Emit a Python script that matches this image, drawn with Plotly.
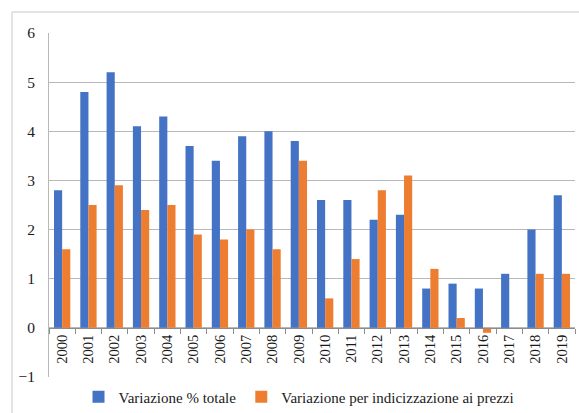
import plotly.graph_objects as go

years = ["2000","2001","2002","2003","2004","2005","2006","2007","2008","2009",
         "2010","2011","2012","2013","2014","2015","2016","2017","2018","2019"]
totale = [2.8, 4.8, 5.2, 4.1, 4.3, 3.7, 3.4, 3.9, 4.0, 3.8,
          2.6, 2.6, 2.2, 2.3, 0.8, 0.9, 0.8, 1.1, 2.0, 2.7]
indicizzazione = [1.6, 2.5, 2.9, 2.4, 2.5, 1.9, 1.8, 2.0, 1.6, 3.4,
                  0.6, 1.4, 2.8, 3.1, 1.2, 0.2, -0.1, 0.0, 1.1, 1.1]

FONT = "Times New Roman, Liberation Serif, serif"

fig = go.Figure()
fig.add_trace(go.Bar(x=years, y=totale, name="Variazione % totale",
                     marker=dict(color="#4472C4", line=dict(width=0))))
fig.add_trace(go.Bar(x=years, y=indicizzazione, name="Variazione per indicizzazione ai prezzi",
                     marker=dict(color="#ED7D31", line=dict(width=0))))

W, H = 579, 413
l, r, t, b = 49, 4, 33, 36
pw, ph = W - l - r, H - t - b

fig.update_layout(
    width=W, height=H,
    margin=dict(l=l, r=r, t=t, b=b, autoexpand=False),
    paper_bgcolor="white", plot_bgcolor="white",
    barmode="group", bargap=0.38, bargroupgap=0.0,
    font=dict(family=FONT, size=14, color="#1a1a1a"),
    showlegend=True,
    legend=dict(orientation="h", xref="container", yref="container",
                x=299 / W, xanchor="center", y=(H - 397) / H, yanchor="middle",
                font=dict(size=15, family=FONT, color="#1a1a1a"), itemwidth=30,
                bgcolor="rgba(0,0,0,0)"),
    xaxis=dict(type="category", anchor="free", position=1/7,
               showline=True, linecolor="#8c8c8c", linewidth=1,
               ticks="outside", tickson="boundaries", ticklen=5, tickcolor="#8c8c8c",
               tickangle=-90, showgrid=False, zeroline=False,
               tickfont=dict(size=14.5, family=FONT)),
    yaxis=dict(range=[-1, 6], dtick=1, tick0=0, showgrid=True, gridcolor="#b8b8b8",
               gridwidth=1, zeroline=False, showline=True, linecolor="#b8b8b8",
               ticks="", ticklabelstandoff=10,
               tickfont=dict(size=15.5, family=FONT)),
    shapes=[dict(type="rect", xref="paper", yref="paper",
                 x0=(12 - l) / pw, x1=(W + 10 - l) / pw,
                 y0=-(H + 10 - (H - b)) / ph, y1=((H - b) - 12) / ph,
                 line=dict(color="#c8c8c8", width=1), fillcolor="rgba(0,0,0,0)",
                 layer="above")],
)

fig.write_html("out.html", config={"displayModeBar": False},
               post_script="document.body.style.margin='0';document.body.style.overflow='hidden';")
